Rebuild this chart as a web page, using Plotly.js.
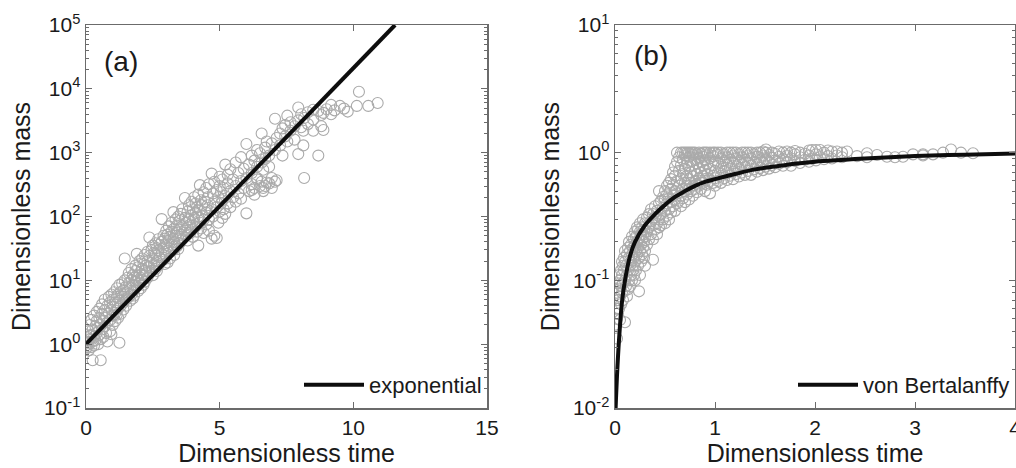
<!DOCTYPE html>
<html>
<head>
<meta charset="utf-8">
<script src="https://cdn.plot.ly/plotly-3.0.1.min.js"></script>
<style>html,body{margin:0;padding:0;background:#fff;}#chart{width:1016px;height:468px;}</style>
</head>
<body>
<div id="chart"></div>
<script>
// ---------- Panel (a): exponential growth ----------
const aGroupTime = [0.0,0.05,0.1,0.15,0.2,0.25,0.3,0.35,0.4,0.45,0.5,0.55,0.6,0.65,0.7,0.75,0.8,0.85,0.9,0.95,
  1.0,1.05,1.1,1.15,1.2,1.25,1.3,1.35,1.4,1.45,1.5,1.55,1.6,1.65,1.7,1.75,1.8,1.85,1.9,1.95,
  2.0,2.05,2.1,2.15,2.2,2.25,2.3,2.37,2.45,2.5,2.55,2.6,2.65,2.7,2.75,2.83,2.9,2.95,
  3.0,3.05,3.1,3.14,3.2,3.27,3.3,3.35,3.4,3.45,3.5,3.55,3.6,3.7,3.75,3.8,3.85,3.9,3.95,
  4.0,4.05,4.1,4.15,4.2,4.26,4.3,4.35,4.4,4.45,4.5,4.55,4.6,4.7,4.75,4.8,4.89,4.95,
  5.0,5.05,5.1,5.15,5.21,5.3,5.4,5.5,5.6,5.7,5.8,5.9,6.0,6.1,6.2,6.3,6.4,6.51,6.57,6.63,6.7,6.76,6.85,6.95,
  7.07,7.13,7.26,7.35,7.45,7.53,7.65,7.8,7.94,8.05,8.13,8.16,8.3,8.5,8.69,8.8,8.88,9.0,9.17,9.3,9.5,9.65,9.79,
  10.13,10.21,10.56,10.91];
const aGroupMass = [[0.95,1.1,0.85],[1.3,0.9],[1.6,1.05,0.8],[2.0,1.2],[1.4,0.9,2.4],[0.56,1.7,1.1],[2.8,1.3,0.95],[1.9,1.15],[2.3,1.5,3.2],[1.0,1.8],
  [2.6,1.4,3.6],[0.56,2.0,1.2],[3.0,1.7,4.2],[2.3,1.3],[3.4,1.9,5.0],[2.6,1.5],[4.0,2.2,1.1],[3.0,5.5],[2.4,4.5,1.6],[1.43,3.4,6.0],
  [2.8,5.0,2.0],[3.8,6.5],[3.1,4.5,2.3],[5.5,7.5,2.9],[3.6,2.6,6.0],[1.05,4.8,8.5],[4.0,6.5,3.0],[5.5,9.0],[4.5,7.0,3.5],[22,6.0,10],
  [5.0,8.0,4.0],[6.5,11],[5.5,9.0,13],[7.5,4.8],[6.0,10,15],[8.5,12,5.2],[7.0,11,5.8],[9.5,14,17],[26,8.0,12],[10,16,6.8],
  [9.0,13,20],[11,7.5],[15,22,10],[12,18,8.5],[14,25,9.5],[17,13],[20,11,28],[47,16,24],[14,19,30],[22,12,35],
  [18,27],[25,15,38],[20,32,14],[29,17,44],[23,36],[91,26,40],[33,21,50],[28,45,18],
  [38,24,60],[32,52,19],[42,27,70],[22,48],[36,58,80],[117,44,30],[65,40,25],[50,90],[34,72,55],[45,100,31],[62,38,85],[52,110],[70,44,130],[195,60,95],[50,80],[120,68,42],[90,150,55],[75,55],[105,170,62],
  [85,130,48],[200,95],[70,115,160],[58,140],[35,100,220],[310,125,80],[180,65],[150,100],[240,90,55],[130,170],[75,280,115],[200,150],[60,90,320],[470,130,45],[230,100],[170,50,350],[46,140,260],[200,80],
  [300,120,420],[160,240],[95,380,180],[280,130],[650,210,110],[330,160,450],[250,140,550],[380,200],[300,170,700],[480,230],[360,190,850],[560,280],[112,400,1370],[650,250],[320,900,480,260],[280,750,220],[1100,400,600,380],[980,300],[2000,350,700],[540,280,250],[800,1200,300],[340,1500],[900,600,330],[1400,400,280],
  [3400,350,1100],[370,1700],[2000,1300],[2400,900],[1800,2700],[3800,1500],[2200,3000],[2600,1600],[5100,950,3200],[2500,4000],[1300,2200],[400,3500],[2800,4300],[4700,2200,3300],[4500,900],[3900,2600],[2260,4200],[4800],[4000,5600],[4600],[5400],[4900],[4400],
  [5400],[9000],[5400],[6000]];
const aFitTime = [0, 11.56];
const aFitMass = [1, 100000];

// ---------- Panel (b): von Bertalanffy growth ----------
const bGroupTime = [0.01,0.02,0.03,0.04,0.05,0.06,0.07,0.08,0.09,0.10,0.11,0.12,0.13,0.14,0.15,0.16,0.17,0.18,0.19,0.20,
  0.21,0.22,0.23,0.24,0.25,0.26,0.27,0.28,0.29,0.30,0.32,0.34,0.36,0.38,0.40,0.42,0.44,0.46,0.48,0.50,
  0.52,0.54,0.56,0.58,0.60,0.62,0.64,0.66,0.68,0.70,0.72,0.74,0.76,0.78,0.80,0.82,0.84,0.86,0.88,0.90,0.92,0.95,0.98,
  1.00,1.03,1.06,1.09,1.12,1.15,1.18,1.21,1.24,1.27,1.30,1.33,1.36,1.39,1.42,1.45,1.48,1.51,1.54,1.57,1.60,1.64,1.68,1.72,1.76,1.80,1.85,1.90,1.94,1.97,
  2.01,2.05,2.09,2.13,2.17,2.22,2.27,2.32,2.42,2.52,2.62,2.72,2.80,2.88,2.98,3.08,3.18,3.28,3.36,3.46,3.58];
const bGroupMass = [[0.045,0.06],[0.05,0.08,0.035],[0.07,0.095,0.055],[0.06,0.085,0.11],[0.049,0.075,0.1],[0.09,0.065,0.12],[0.08,0.11,0.14],[0.095,0.07,0.13],[0.082,0.12,0.15],[0.047,0.1,0.14,0.17],
  [0.09,0.13],[0.11,0.16,0.075],[0.12,0.085,0.18],[0.1,0.15,0.2],[0.13,0.09,0.17],[0.11,0.19,0.14],[0.16,0.1,0.22],[0.13,0.18,0.12],[0.15,0.21,0.11],[0.14,0.19,0.24,0.1],
  [0.12,0.17,0.22],[0.16,0.2,0.26],[0.13,0.18,0.25],[0.082,0.21,0.15],[0.17,0.24,0.28,0.11],[0.19,0.14,0.23],[0.21,0.26,0.16],[0.18,0.23,0.3],[0.2,0.25,0.15],[0.22,0.28,0.17,0.13],
  [0.24,0.19,0.31],[0.26,0.21,0.33],[0.23,0.29,0.36],[0.145,0.27,0.33,0.21],[0.25,0.31,0.38],[0.28,0.35,0.23],[0.5,0.3,0.26,0.4],[0.33,0.27,0.42],[0.3,0.37,0.45],[0.28,0.35,0.43,0.5],
  [0.32,0.4,0.47,0.55],[0.36,0.3,0.44,0.58],[0.34,0.41,0.52,0.62],[0.38,0.46,0.56,0.7],[0.35,0.43,0.5,0.66,0.78],[1.0,0.4,0.48,0.6,0.85],[0.42,0.55,0.72,0.92],[0.38,0.46,0.62,0.8,1.0],[0.44,0.52,0.68,0.88,1.0],[0.41,0.5,0.58,0.75,0.95,1.0],
  [0.47,0.55,0.66,0.84,1.0],[0.43,0.52,0.62,0.78,0.93,1.0],[0.5,0.58,0.7,0.86,1.0],[0.46,0.55,0.65,0.8,0.96,1.0],[0.52,0.6,0.72,0.88,1.0],[0.49,0.57,0.68,0.82,0.97],[0.55,0.63,0.76,0.9,1.0],[0.52,0.6,0.7,0.85,0.98],[0.58,0.66,0.79,0.93,1.0],[0.5,0.62,0.73,0.87,1.0],[0.56,0.68,0.81,0.95,1.0],[0.48,0.6,0.75,0.9,1.0],[0.58,0.66,0.8,0.94,1.0],
  [0.55,0.63,0.72,0.85,1.0],[0.6,0.7,0.82,0.96,1.0],[0.58,0.66,0.77,0.9,1.0],[0.63,0.72,0.86,0.97],[0.61,0.69,0.8,0.92,1.0],[0.66,0.75,0.88,1.0],[0.62,0.71,0.83,0.95,1.0],[0.68,0.78,0.9,1.0],[0.65,0.74,0.86,0.97],[0.7,0.81,0.92,1.0],
  [0.67,0.77,0.88,1.0],[0.72,0.83,0.95,1.0],[0.67,0.79,0.9,1.0],[0.74,0.85,0.97],[0.71,0.81,0.93,1.0],[0.76,0.87,1.0],[0.73,0.83,0.95,1.02],[0.78,0.89,1.0,1.06],[0.75,0.85,0.96],[0.8,0.91,1.0],[0.77,0.87,0.98],[0.82,0.93,1.02],[0.79,0.89,1.0],[0.84,0.95,1.02],[0.79,0.9,1.0],[0.86,0.97,1.03],[0.83,0.92,1.0],[0.88,0.98],[0.85,0.95,1.04],[1.05,0.9],
  [0.87,0.97,1.05],[1.05,0.92],[0.89,1.0],[0.94,1.04],[0.9,1.02],[1.02,0.95],[0.92,1.0],[1.02],[0.94],[0.99,0.92],[0.96],[0.93],[0.92],[0.93],[0.97],[0.97,0.95],[0.97],[1.0],[1.06],[1.0],[0.99]];
const bFitTime = [0.004,0.01,0.02,0.04,0.07,0.1,0.15,0.2,0.3,0.4,0.5,0.6,0.7,0.8,0.9,1.0,1.2,1.4,1.6,1.8,2.0,2.3,2.6,3.0,3.5,4.0];
const bFitMass = [0.009,0.012,0.018,0.034,0.068,0.10,0.155,0.20,0.27,0.33,0.39,0.45,0.50,0.55,0.59,0.62,0.68,0.74,0.78,0.82,0.85,0.88,0.91,0.94,0.965,0.985];

// ---------- Tick labels ----------
const aYTickVals = [0.1, 1, 10, 100, 1000, 10000, 100000];
const aYTickText = ['10<sup>-1</sup>','10<sup>0</sup>','10<sup>1</sup>','10<sup>2</sup>','10<sup>3</sup>','10<sup>4</sup>','10<sup>5</sup>'];
const bYTickVals = [0.01, 0.1, 1, 10];
const bYTickText = ['10<sup>-2</sup>','10<sup>-1</sup>','10<sup>0</sup>','10<sup>1</sup>'];
const aXTickVals = [0, 5, 10, 15];
const bXTickVals = [0, 1, 2, 3, 4];

function flatten(groupT, groupM) {
  const xs = [], ys = [];
  groupT.forEach((t, i) => groupM[i].forEach(m => { xs.push(t); ys.push(m); }));
  return {xs, ys};
}
const aPts = flatten(aGroupTime, aGroupMass);
const bPts = flatten(bGroupTime, bGroupMass);

const FONT = 'Liberation Sans, Arial, sans-serif';
const AX = '#6b6b6b';
const TXT = '#1a1a1a';
const markerStyle = {symbol: 'circle-open', size: 11, color: 'rgb(170,170,170)', line: {width: 1.1, color: 'rgb(170,170,170)'}};

const traces = [
  {x: aPts.xs, y: aPts.ys, xaxis: 'x', yaxis: 'y', type: 'scatter', mode: 'markers', marker: markerStyle, showlegend: false, hoverinfo: 'skip'},
  {x: aFitTime, y: aFitMass, xaxis: 'x', yaxis: 'y', type: 'scatter', mode: 'lines', name: 'exponential', line: {color: '#0d0d0d', width: 4}, legend: 'legend'},
  {x: bPts.xs, y: bPts.ys, xaxis: 'x2', yaxis: 'y2', type: 'scatter', mode: 'markers', marker: markerStyle, showlegend: false, hoverinfo: 'skip'},
  {x: bFitTime, y: bFitMass, xaxis: 'x2', yaxis: 'y2', type: 'scatter', mode: 'lines', name: 'von Bertalanffy', line: {color: '#0d0d0d', width: 4, shape: 'spline'}, legend: 'legend2'}
];

function axisBase() {
  return {
    showline: true, linecolor: AX, linewidth: 1.5, mirror: 'ticks',
    ticks: 'inside', ticklen: 6, tickwidth: 1, tickcolor: AX,
    showgrid: false, zeroline: false, automargin: false,
    tickfont: {family: FONT, size: 21, color: TXT}
  };
}
const yDom = [60/468, 443/468];
const titleFont = {family: FONT, size: 25, color: TXT};
const minorLog = {ticks: 'inside', ticklen: 3, tickcolor: AX, tickwidth: 1, dtick: 'D1'};
const legendFont = {family: FONT, size: 22, color: TXT};

const layout = {
  width: 1016, height: 468,
  margin: {l: 0, r: 0, t: 0, b: 0},
  paper_bgcolor: '#ffffff', plot_bgcolor: '#ffffff',
  font: {family: FONT, color: TXT},
  xaxis: Object.assign(axisBase(), {domain: [86/1016, 487/1016], range: [0, 15], tickmode: 'array', tickvals: aXTickVals, anchor: 'y',
    title: {text: 'Dimensionless time', font: titleFont, standoff: 4}}),
  yaxis: Object.assign(axisBase(), {domain: yDom, type: 'log', range: [-1, 5], tickmode: 'array', tickvals: aYTickVals, ticktext: aYTickText, anchor: 'x',
    minor: minorLog, title: {text: 'Dimensionless mass', font: titleFont, standoff: 6}}),
  xaxis2: Object.assign(axisBase(), {domain: [615/1016, 1015/1016], range: [0, 4], tickmode: 'array', tickvals: bXTickVals, anchor: 'y2',
    ticklabeloverflow: 'allow', title: {text: 'Dimensionless time', font: titleFont, standoff: 4}}),
  yaxis2: Object.assign(axisBase(), {domain: yDom, type: 'log', range: [-2, 1], tickmode: 'array', tickvals: bYTickVals, ticktext: bYTickText, anchor: 'x2',
    minor: minorLog, title: {text: 'Dimensionless mass', font: titleFont, standoff: 6}}),
  legend: {x: 487/1016, xanchor: 'right', y: 83/468, yanchor: 'middle', bgcolor: 'rgba(0,0,0,0)', borderwidth: 0,
    itemwidth: 60, font: legendFont},
  legend2: {x: 1015/1016, xanchor: 'right', y: 83/468, yanchor: 'middle', bgcolor: 'rgba(0,0,0,0)', borderwidth: 0,
    itemwidth: 60, font: legendFont},
  annotations: [
    {text: '(a)', xref: 'x domain', yref: 'y domain', x: 0.04, y: 0.905, xanchor: 'left', yanchor: 'middle', showarrow: false, font: {family: FONT, size: 28, color: TXT}},
    {text: '(b)', xref: 'x2 domain', yref: 'y2 domain', x: 0.042, y: 0.92, xanchor: 'left', yanchor: 'middle', showarrow: false, font: {family: FONT, size: 28, color: TXT}}
  ]
};

Plotly.newPlot('chart', traces, layout, {staticPlot: true, displayModeBar: false});
</script>
</body>
</html>
